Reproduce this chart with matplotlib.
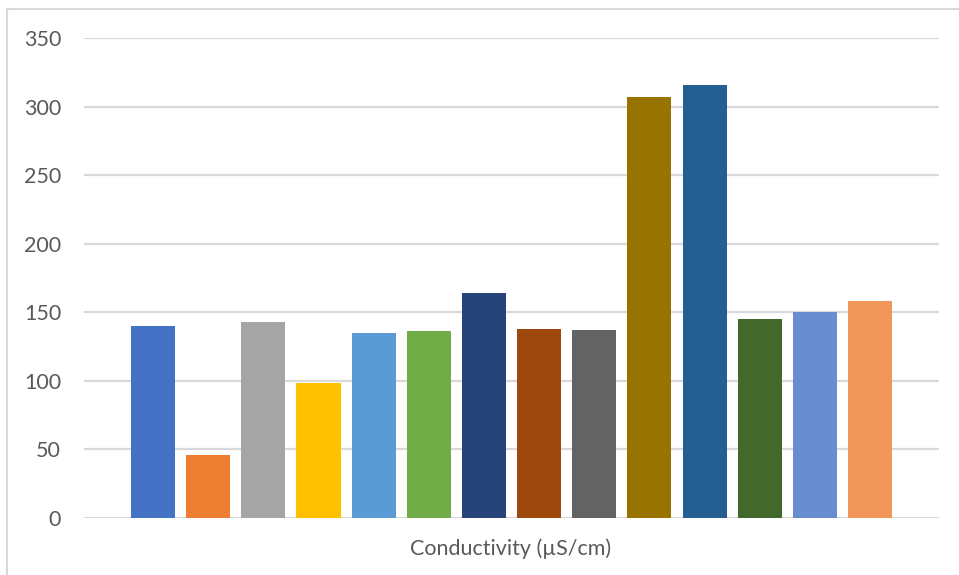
import matplotlib
matplotlib.use("Agg")
import matplotlib.pyplot as plt
from matplotlib.patches import Rectangle

plt.rcParams["font.family"] = ["Lato", "DejaVu Sans"]

# conductivity of each sample (µS/cm)
values = [140, 46, 143, 98, 135, 136.5, 164, 138, 137, 307, 316, 145, 150, 158]
colors = ["#4472C4", "#ED7D31", "#A5A5A5", "#FFC000", "#5B9BD5", "#70AD47",
          "#264478", "#9E480E", "#636363", "#997300", "#255E91", "#43682B",
          "#698ED0", "#F1975A"]
yticks = [0, 50, 100, 150, 200, 250, 300, 350]
xlabel = "Conductivity (µS/cm)"

W, H = 959, 575
fig = plt.figure(figsize=(W / 100, H / 100), dpi=100)
ax = fig.add_axes([84 / W, 57.3 / H, 855 / W, 479.4 / H])

ax.bar(range(len(values)), values, width=0.8, color=colors, zorder=3)

ax.set_xlim(-1.25, len(values) + 0.25)
ax.set_ylim(0, 350)
ax.set_yticks(yticks)
ax.set_xticks([])
ax.grid(True, axis="y", color="#D9D9D9", linewidth=1.6, zorder=0)
for s in ax.spines.values():
    s.set_visible(False)
ax.tick_params(axis="y", length=0, pad=16.5, labelsize=15.5, labelcolor="#595959")

fig.text(511 / W, 1 - 549 / H, xlabel, ha="center", va="center",
         fontsize=15.5, color="#595959")

# chart frame
fig.patches.append(Rectangle((7 / W, -0.1), 1.1, 1 - 9 / H + 0.1,
                             transform=fig.transFigure, fill=False,
                             edgecolor="#D9D9D9", linewidth=1.5))

fig.savefig("out.png", dpi=100)
